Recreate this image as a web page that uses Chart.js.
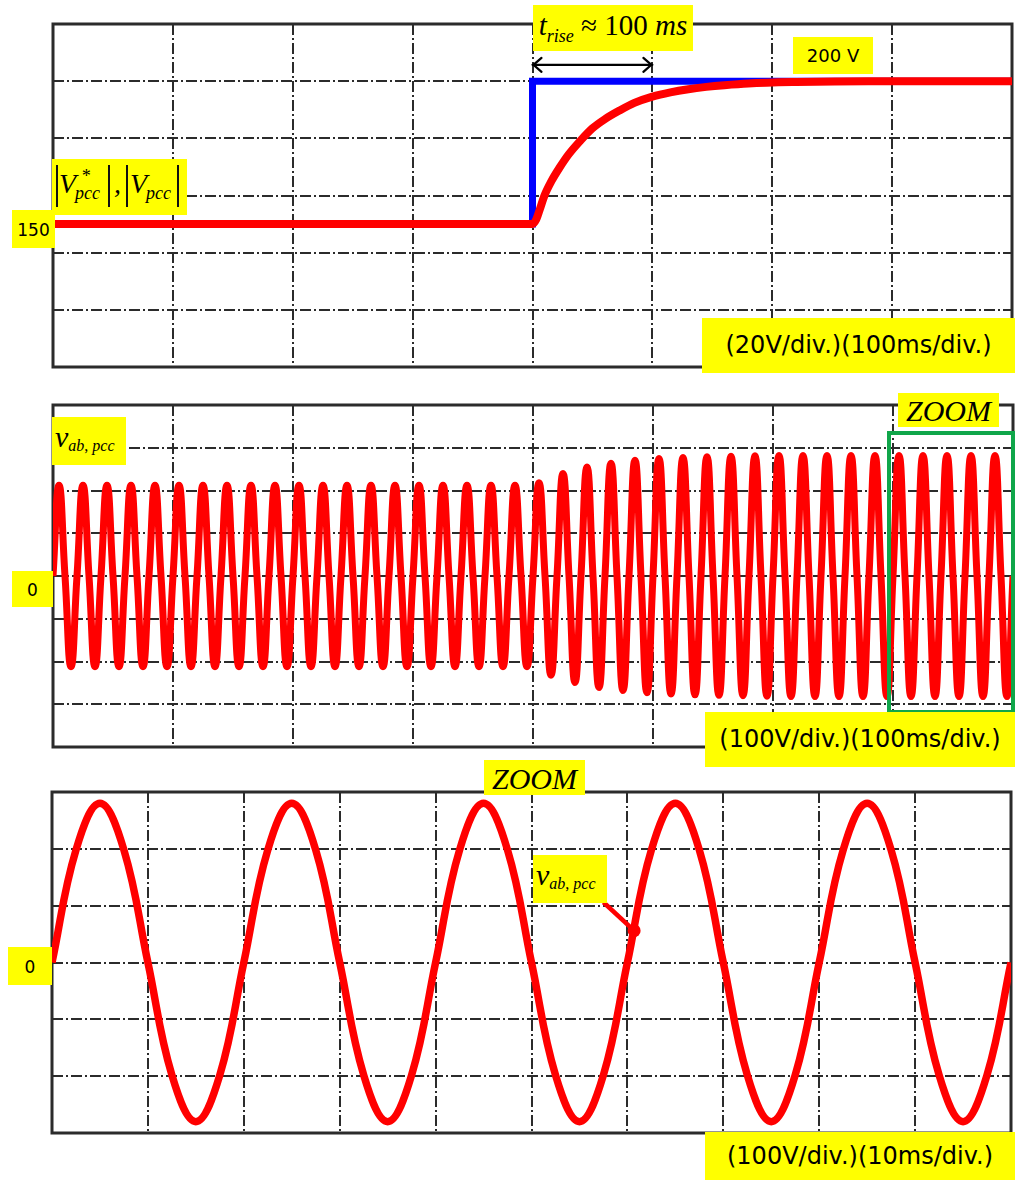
<!DOCTYPE html>
<html><head><meta charset="utf-8">
<script src="https://cdn.jsdelivr.net/npm/chart.js@4"></script>
<style>
html,body{margin:0;padding:0;background:#fff;}
body{width:1015px;height:1180px;position:relative;overflow:hidden;}
canvas{position:absolute;left:0;}
.lbl{position:absolute;background:#ffff00;color:#000;white-space:nowrap;text-align:center;}
.sans{font-family:"DejaVu Sans",sans-serif;}
.serif{font-family:"Liberation Serif","DejaVu Serif",serif;font-style:italic;}
.up{font-style:normal;}
.abs{position:absolute;line-height:1;}
.bar{position:absolute;width:2px;height:42px;background:#111;top:6px;}
#zoombox{position:absolute;left:887px;top:431px;width:128px;height:283px;box-sizing:border-box;border:4px solid #10a64a;}
</style></head><body>
<canvas id="c1" width="1015" height="385" style="top:0"></canvas>
<canvas id="c2" width="1015" height="385" style="top:385px"></canvas>
<canvas id="c3" width="1015" height="410" style="top:770px"></canvas>
<div id="zoombox"></div>

<!-- panel 1 labels -->
<div class="lbl serif" style="left:533px;top:5px;width:160px;height:46px;font-size:29px;line-height:40px;">t<span style="font-size:18px;position:relative;top:7px;">rise</span><span class="up"> ≈ 100 </span>ms</div>
<div class="lbl sans" style="left:793px;top:37px;width:80px;height:37px;font-size:18px;line-height:37px;">200 V</div>
<div class="lbl sans" style="left:702px;top:318px;width:313px;height:55px;font-size:24px;line-height:55px;">(20V/div.)(100ms/div.)</div>
<div class="lbl sans" style="left:12px;top:210px;width:43px;height:38px;font-size:17px;line-height:40px;">150</div>
<div class="lbl serif" style="left:52px;top:159px;width:135px;height:56px;">
  <span class="bar" style="left:4px"></span>
  <span class="abs" style="left:7px;top:11px;font-size:28px;">V</span>
  <span class="abs" style="left:29px;top:8px;font-size:18px;">*</span>
  <span class="abs" style="left:23px;top:25px;font-size:18px;">pcc</span>
  <span class="bar" style="left:56px"></span>
  <span class="abs" style="left:62px;top:11px;font-size:28px;">,</span>
  <span class="bar" style="left:74px"></span>
  <span class="abs" style="left:78px;top:11px;font-size:28px;">V</span>
  <span class="abs" style="left:94px;top:25px;font-size:18px;">pcc</span>
  <span class="bar" style="left:125px"></span>
</div>

<!-- panel 2 labels -->
<div class="lbl serif" style="left:898px;top:393px;width:101px;height:34px;font-size:30px;line-height:36px;">ZOOM</div>
<div class="lbl sans" style="left:705px;top:712px;width:310px;height:55px;font-size:24px;line-height:55px;">(100V/div.)(100ms/div.)</div>
<div class="lbl serif" style="left:52px;top:417px;width:74px;height:48px;font-size:30px;line-height:40px;text-align:left;padding-left:3px;box-sizing:border-box;">v<span style="font-size:16px;position:relative;top:4px;">ab<span class="up">, </span>pcc</span></div>
<div class="lbl sans" style="left:12px;top:571px;width:41px;height:36px;font-size:17px;line-height:38px;">0</div>

<!-- panel 3 labels -->
<div class="lbl serif" style="left:484px;top:760px;width:101px;height:35px;font-size:30px;line-height:37px;">ZOOM</div>
<div class="lbl sans" style="left:8px;top:947px;width:44px;height:38px;font-size:17px;line-height:40px;">0</div>
<div class="lbl serif" style="left:533px;top:855px;width:74px;height:48px;font-size:30px;line-height:40px;text-align:left;padding-left:3px;box-sizing:border-box;">v<span style="font-size:16px;position:relative;top:4px;">ab<span class="up">, </span>pcc</span></div>
<div class="lbl sans" style="left:705px;top:1132px;width:310px;height:48px;font-size:24px;line-height:48px;">(100V/div.)(10ms/div.)</div>

<script>
// ---------- Panel 1: |V*pcc| (reference) and |Vpcc| (measured), time in ms, volts ----------
const refTime = [0, 400, 400, 800];
const refVolt = [150, 150, 200, 200];
const magTime = [0, 400, 403, 406, 410, 416, 422.5, 430, 440, 450, 460, 472.5, 485, 500, 515, 530, 545, 560, 580, 620, 680, 800];
const magVolt = [150, 150, 151.5, 155, 160, 165.2, 169.7, 174.3, 179.2, 183.5, 186.6, 189.7, 192.4, 194.6, 196.1, 197.2, 198, 198.6, 199.2, 199.7, 200, 200];
const p1XTicks = [0, 100, 200, 300, 400, 500, 600, 700, 800];
const p1YTicks = [100, 120, 140, 160, 180, 200, 220];

// ---------- Panel 2: v_ab,pcc, one sample every 5 ms (zero crossings and peaks) ----------
const vabStepMs = 5;
const vabVolt = [
  0,212,0,-212,0,212,0,-212,0,212,0,-212,0,212,0,-212,0,212,0,-212,
  0,212,0,-212,0,212,0,-212,0,212,0,-212,0,212,0,-212,0,212,0,-212,
  0,212,0,-212,0,212,0,-212,0,212,0,-212,0,212,0,-212,0,212,0,-212,
  0,212,0,-212,0,212,0,-212,0,212,0,-212,0,212,0,-212,0,212,0,-212,
  0,218,0,-232,0,240,0,-249,0,255,0,-261,0,264,0,-268,0,271,0,-273,
  0,275,0,-276,0,277,0,-278,0,279,0,-279,0,280,0,-280,0,281,0,-281,
  0,282,0,-282,0,282,0,-282,0,282,0,-282,0,282,0,-282,0,282,0,-282,
  0,282,0,-282,0,282,0,-282,0,282,0,-282,0,282,0,-282,0,282,0,-282,
  0
];
const p2XTicks = [0, 100, 200, 300, 400, 500, 600, 700, 800];
const p2YTicks = [-400, -300, -200, -100, 0, 100, 200, 300, 400];

// ---------- Panel 3: zoom of v_ab,pcc, one sample every 2.5 ms ----------
const zoomStepMs = 2.5;
const zoomVolt = [
  0,198,280,198,0,-198,-280,-198,
  0,198,280,198,0,-198,-280,-198,
  0,198,280,198,0,-198,-280,-198,
  0,198,280,198,0,-198,-280,-198,
  0,198,280,198,0,-198,-280,-198,
  0
];
const p3XTicks = [0, 10, 20, 30, 40, 50, 60, 70, 80, 90, 100];
const p3YTicks = [-300, -200, -100, 0, 100, 200, 300];

// ---------- helpers ----------
const pairs = (xs, ys) => ys.map((y, i) => ({x: xs[i], y}));
const clock = (n, step) => Array.from({length: n}, (_, i) => i * step);

const scopeGrid = {
  id: 'scopeGrid',
  beforeDatasetsDraw(chart, args, o) {
    const {ctx, chartArea: a, scales: {x, y}} = chart;
    ctx.save();
    ctx.strokeStyle = '#2b2b2b';
    ctx.lineWidth = 2;
    ctx.setLineDash([11, 3, 2, 3]);
    o.xTicks.forEach(v => {
      const px = Math.round(x.getPixelForValue(v));
      if (px <= a.left + 2 || px >= a.right - 2) return;
      ctx.beginPath(); ctx.moveTo(px, a.top); ctx.lineTo(px, a.bottom); ctx.stroke();
    });
    o.yTicks.forEach(v => {
      const py = Math.round(y.getPixelForValue(v));
      if (py <= a.top + 2 || py >= a.bottom - 2) return;
      ctx.beginPath(); ctx.moveTo(a.left, py); ctx.lineTo(a.right, py); ctx.stroke();
    });
    ctx.setLineDash([]);
    ctx.lineWidth = 3;
    ctx.strokeStyle = '#2b2b2b';
    ctx.strokeRect(a.left, a.top, a.right - a.left, a.bottom - a.top);
    ctx.restore();
  }
};

const marks = {
  id: 'marks',
  afterDatasetsDraw(chart, args, o) {
    const {ctx, scales: {x, y}} = chart;
    ctx.save();
    if (o.arrow) {
      const x1 = x.getPixelForValue(o.arrow.from), x2 = x.getPixelForValue(o.arrow.to), yy = y.getPixelForValue(o.arrow.level);
      ctx.strokeStyle = '#000'; ctx.lineWidth = 2.2; ctx.lineCap = 'round';
      ctx.beginPath(); ctx.moveTo(x1, yy); ctx.lineTo(x2, yy); ctx.stroke();
      ctx.beginPath(); ctx.moveTo(x1 + 9, yy - 7); ctx.lineTo(x1 + 1, yy); ctx.lineTo(x1 + 9, yy + 7); ctx.stroke();
      ctx.beginPath(); ctx.moveTo(x2 - 9, yy - 7); ctx.lineTo(x2 - 1, yy); ctx.lineTo(x2 - 9, yy + 7); ctx.stroke();
    }
    if (o.leader) {
      const lx = x.getPixelForValue(o.leader.from[0]), ly = y.getPixelForValue(o.leader.from[1]);
      const dx = x.getPixelForValue(o.leader.to[0]), dy = y.getPixelForValue(o.leader.to[1]);
      ctx.strokeStyle = '#ff0000'; ctx.fillStyle = '#ff0000'; ctx.lineWidth = 4.5;
      ctx.beginPath(); ctx.moveTo(lx, ly); ctx.lineTo(dx, dy); ctx.stroke();
      ctx.beginPath(); ctx.arc(dx, dy, 6.5, 0, Math.PI * 2); ctx.fill();
    }
    ctx.restore();
  }
};

function scopeChart(id, datasets, xr, yr, pad, grid, extra) {
  return new Chart(document.getElementById(id), {
    type: 'line',
    data: {datasets},
    options: {
      responsive: false, animation: false, devicePixelRatio: 1,
      layout: {padding: pad},
      elements: {point: {radius: 0, hoverRadius: 0}},
      plugins: {legend: {display: false}, tooltip: {enabled: false}, scopeGrid: grid, marks: extra || {}},
      scales: {
        x: {type: 'linear', min: xr[0], max: xr[1], display: false},
        y: {type: 'linear', min: yr[0], max: yr[1], display: false}
      },
      events: []
    },
    plugins: [scopeGrid, marks]
  });
}

scopeChart('c1', [
  {data: pairs(magTime, magVolt), borderColor: '#ff0000', borderWidth: 8, cubicInterpolationMode: 'monotone', fill: false},
  {data: pairs(refTime, refVolt), borderColor: '#0000ff', borderWidth: 7, tension: 0, fill: false, borderJoinStyle: 'miter'}
], [0, 800], [100, 220], {left: 53, top: 24, right: 3, bottom: 18},
  {xTicks: p1XTicks, yTicks: p1YTicks},
  {arrow: {from: 400, to: 500, level: 205.7}});

scopeChart('c2', [
  {data: pairs(clock(vabVolt.length, vabStepMs), vabVolt), borderColor: '#ff0000', borderWidth: 7, tension: 0.5, fill: false}
], [0, 800], [-400, 400], {left: 53, top: 20, right: 2, bottom: 23},
  {xTicks: p2XTicks, yTicks: p2YTicks});

scopeChart('c3', [
  {data: pairs(clock(zoomVolt.length, zoomStepMs), zoomVolt), borderColor: '#ff0000', borderWidth: 7.5, tension: 0.4, fill: false}
], [0, 100], [-300, 300], {left: 52, top: 22, right: 4, bottom: 47},
  {xTicks: p3XTicks, yTicks: p3YTicks},
  {leader: {from: [57.5, 106], to: [60.7, 56]}});
</script>
</body></html>
